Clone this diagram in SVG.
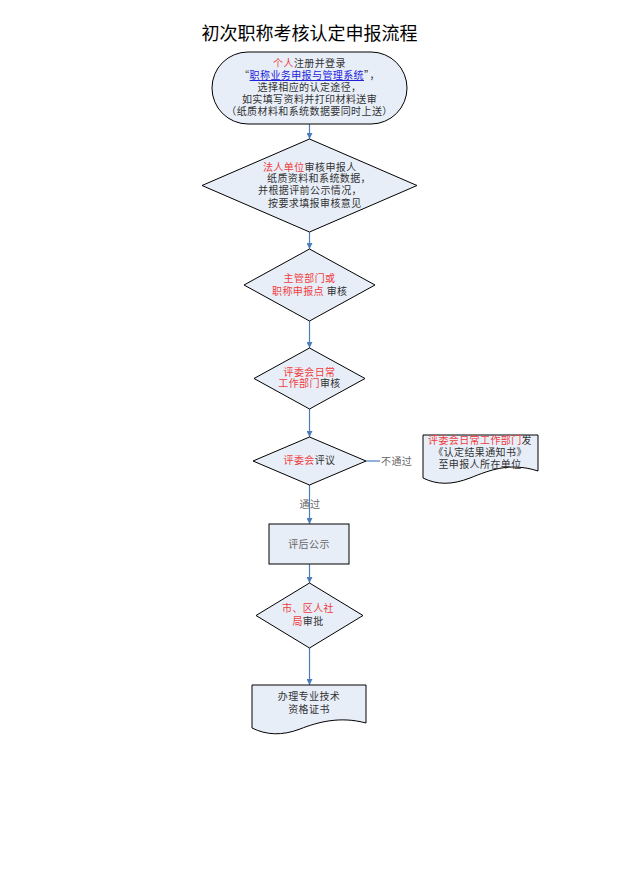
<svg xmlns="http://www.w3.org/2000/svg" width="621" height="875" viewBox="0 0 621 875">
<style>
.sh{fill:#E8EEF8;stroke:#000;stroke-width:1}
.t{font-family:"Noto Sans CJK SC","Noto Sans",sans-serif;font-size:10px;fill:#333;letter-spacing:0.4px}
.c{text-anchor:middle}
.r{fill:#F03C3C}
.b{fill:#2222DD;text-decoration:underline}
.g{fill:#666}
.ln{stroke:#4A7EBB;stroke-width:1.2;fill:none}
</style>
<defs>
<marker id="ah" viewBox="0 0 10 10" refX="10" refY="5" markerWidth="6" markerHeight="6" orient="auto" markerUnits="userSpaceOnUse">
<path d="M0,0 L10,5 L0,10 Z" fill="#4A7EBB"/>
</marker>
</defs>
<rect width="621" height="875" fill="#fff"/>
<text x="309.5" y="40" text-anchor="middle" font-family="Noto Sans CJK SC,Noto Sans,sans-serif" font-size="18" fill="#000">初次职称考核认定申报流程</text>

<g id="connectors">
<line class="ln" x1="309.5" y1="124" x2="309.5" y2="139" marker-end="url(#ah)"/>
<line class="ln" x1="309.5" y1="232" x2="309.5" y2="249" marker-end="url(#ah)"/>
<line class="ln" x1="309.5" y1="321" x2="309.5" y2="348" marker-end="url(#ah)"/>
<line class="ln" x1="309.5" y1="409" x2="309.5" y2="437" marker-end="url(#ah)"/>
<line class="ln" x1="309.5" y1="485" x2="309.5" y2="524" marker-end="url(#ah)"/>
<line class="ln" x1="309.5" y1="564" x2="309.5" y2="583" marker-end="url(#ah)"/>
<line class="ln" x1="309.5" y1="648" x2="309.5" y2="685" marker-end="url(#ah)"/>
<line class="ln" x1="366" y1="461" x2="380" y2="461"/>
<text class="t g" x="381" y="465">不通过</text>
<text class="t g c" x="310" y="508">通过</text>
</g>

<g id="start">
<rect class="sh" x="212" y="52" width="195" height="72" rx="36" ry="36"/>
<text class="t c" x="309.5" y="67"><tspan class="r">个人</tspan>注册并登录</text>
<text class="t c" x="309.5" y="79">“<tspan class="b">职称业务申报与管理系统</tspan>”，</text>
<text class="t c" x="309.5" y="91">选择相应的认定途径，</text>
<text class="t c" x="309.5" y="103">如实填写资料并打印材料送审</text>
<text class="t c" x="309.5" y="115">（纸质材料和系统数据要同时上送）</text>
</g>

<g id="unit">
<polygon class="sh" points="309.5,139 417,185.5 309.5,232 202,185.5"/>
<text class="t" x="263" y="171"><tspan class="r">法人单位</tspan>审核申报人</text>
<text class="t" x="267" y="182">纸质资料和系统数据，</text>
<text class="t" x="258" y="194">并根据评前公示情况，</text>
<text class="t" x="268" y="207">按要求填报审核意见</text>
</g>

<g id="dept">
<polygon class="sh" points="309.5,249 375,285 309.5,321 244,285"/>
<text class="t c r" x="309.5" y="282">主管部门或</text>
<text class="t" x="272" y="295"><tspan class="r">职称申报点</tspan> 审核</text>
</g>

<g id="office">
<polygon class="sh" points="309.5,348 365,378.5 309.5,409 254,378.5"/>
<text class="t c r" x="309.5" y="376">评委会日常</text>
<text class="t c" x="309.5" y="387"><tspan class="r">工作部门</tspan>审核</text>
</g>

<g id="review">
<polygon class="sh" points="309.5,437 366,461 309.5,485 253,461"/>
<text class="t c" x="309.5" y="464"><tspan class="r">评委会</tspan>评议</text>
</g>

<g id="notice">
<path class="sh" d="M423,435 H538 V471 C510,462 490,470 470,478 C452,485 437,485 423,478 Z"/>
<text class="t c" x="480" y="444"><tspan class="r">评委会日常工作部门</tspan>发</text>
<text class="t c" x="480" y="456">《认定结果通知书》</text>
<text class="t c" x="480" y="468">至申报人所在单位</text>
</g>

<g id="publicity">
<rect class="sh" x="269" y="524" width="80" height="40"/>
<text class="t c g" x="309" y="548">评后公示</text>
</g>

<g id="bureau">
<polygon class="sh" points="309.5,583 363,615.5 309.5,648 256,615.5"/>
<text class="t c r" x="308" y="612">市、区人社</text>
<text class="t c" x="308" y="625"><tspan class="r">局</tspan>审批</text>
</g>

<g id="certificate">
<path class="sh" d="M252,685 H366 V723 C340,716 318,722 300,729 C282,736 266,735 252,728 Z"/>
<text class="t c" x="309" y="700">办理专业技术</text>
<text class="t c" x="309" y="713">资格证书</text>
</g>
</svg>
